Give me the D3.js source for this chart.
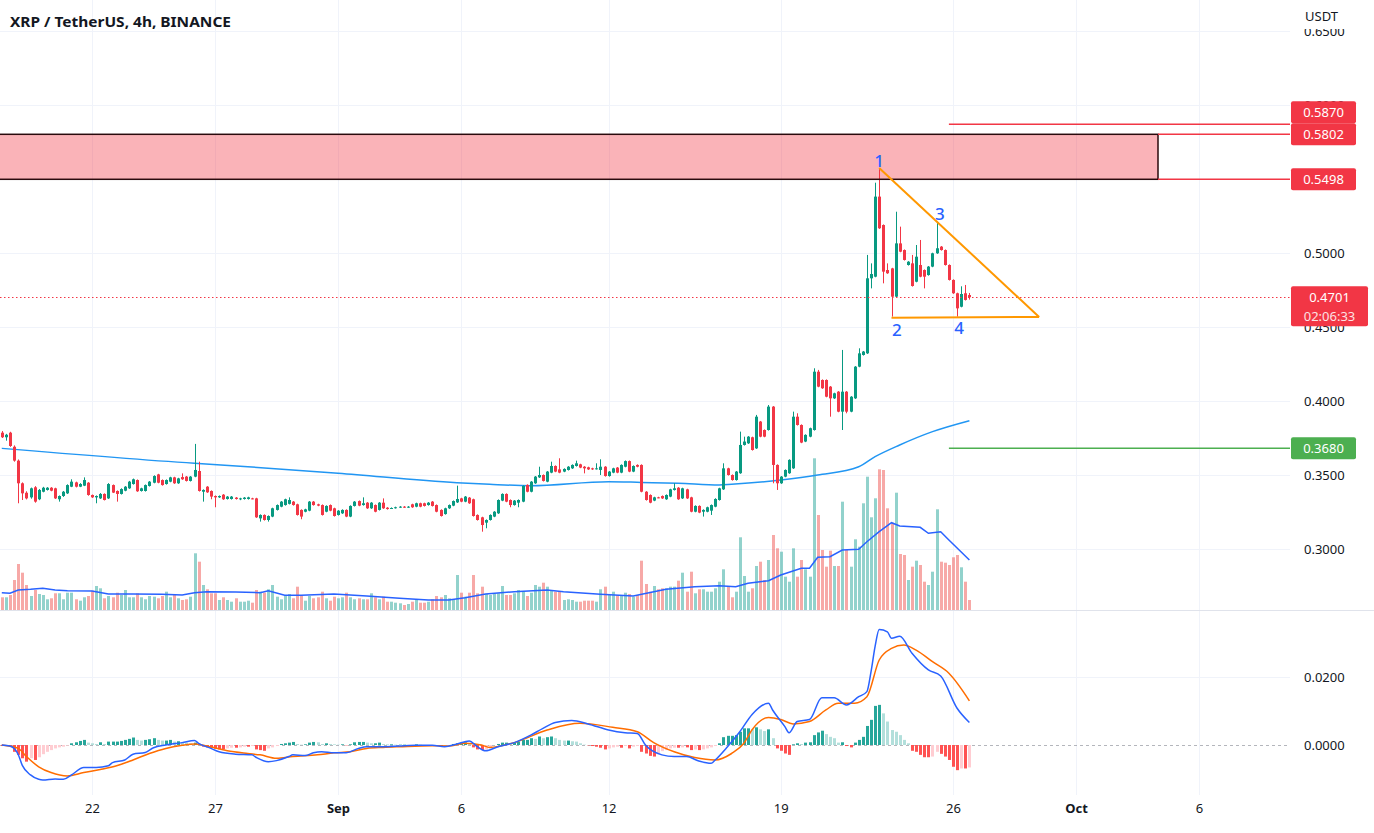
<!DOCTYPE html>
<html><head><meta charset="utf-8">
<script src="https://cdn.jsdelivr.net/npm/d3@7"></script>
<style>
body{margin:0;background:#fff;}
svg{display:block;font-family:"Noto Sans","Open Sans",sans-serif;}
</style></head>
<body><svg id="c" width="1374" height="833"></svg>
<script>
// ---------------- DATA (XRP/USDT 4h, first candle 2022-08-18 08:00 UTC) ----------------
const opens = [
0.3786,0.3755,0.3786,0.3691,0.3597,0.3444,0.3380,0.3349,0.3417,0.3336,
0.3387,0.3399,0.3414,0.3410,0.3336,0.3358,0.3376,0.3421,0.3450,0.3421,
0.3428,0.3448,0.3365,0.3349,0.3342,0.3372,0.3342,0.3432,0.3392,0.3372,
0.3394,0.3410,0.3439,0.3466,0.3392,0.3392,0.3426,0.3448,0.3504,0.3466,
0.3439,0.3455,0.3484,0.3444,0.3486,0.3489,0.3460,0.3489,0.3527,0.3387,
0.3421,0.3392,0.3358,0.3349,0.3367,0.3338,0.3338,0.3347,0.3338,0.3338,
0.3338,0.3342,0.3342,0.3207,0.3230,0.3196,0.3219,0.3264,0.3286,0.3297,
0.3305,0.3320,0.3302,0.3264,0.3252,0.3259,0.3320,0.3302,0.3297,0.3252,
0.3297,0.3275,0.3230,0.3241,0.3264,0.3219,0.3291,0.3324,0.3297,0.3313,
0.3275,0.3297,0.3264,0.3313,0.3279,0.3275,0.3277,0.3282,0.3286,0.3282,
0.3302,0.3286,0.3309,0.3309,0.3297,0.3320,0.3297,0.3264,0.3236,0.3275,
0.3293,0.3315,0.3342,0.3320,0.3347,0.3336,0.3230,0.3214,0.3178,0.3196,
0.3219,0.3241,0.3327,0.3372,0.3331,0.3297,0.3313,0.3320,0.3433,0.3387,
0.3444,0.3484,0.3500,0.3455,0.3516,0.3561,0.3538,0.3523,0.3534,0.3545,
0.3561,0.3572,0.3556,0.3552,0.3545,0.3541,0.3534,0.3556,0.3493,0.3516,
0.3550,0.3516,0.3556,0.3594,0.3523,0.3568,0.3568,0.3387,0.3365,0.3327,
0.3349,0.3358,0.3336,0.3354,0.3399,0.3414,0.3342,0.3403,0.3349,0.3252,
0.3291,0.3252,0.3252,0.3259,0.3286,0.3331,0.3403,0.3545,0.3500,0.3466,
0.3512,0.3703,0.3714,0.3755,0.3680,0.3861,0.3804,0.3804,0.3962,0.3568,
0.3444,0.3489,0.3512,0.3545,0.3894,0.3838,0.3726,0.3759,0.3804,0.4198,
0.4142,0.4142,0.4097,0.4018,0.4063,0.3928,0.4063,0.3928,0.4018,0.4232,
0.4311,0.4322,0.4829,0.4840,0.5381,0.5189,0.4885,0.4896,0.4705,0.5065,
0.5020,0.4919,0.4930,0.4806,0.4919,0.4885,0.4851,0.4908,0.4998,0.5043,
0.5020,0.4919,0.4818,0.4728,0.4637,0.4728,0.4716];
const highs = [
0.3797,0.3778,0.3792,0.3700,0.3605,0.3450,0.3390,0.3415,0.3425,0.3405,
0.3420,0.3418,0.3418,0.3414,0.3362,0.3392,0.3437,0.3471,0.3455,0.3445,
0.3484,0.3452,0.3368,0.3362,0.3378,0.3376,0.3445,0.3436,0.3396,0.3410,
0.3425,0.3460,0.3476,0.3470,0.3414,0.3436,0.3459,0.3498,0.3508,0.3470,
0.3470,0.3488,0.3488,0.3481,0.3511,0.3493,0.3493,0.3710,0.3590,0.3403,
0.3425,0.3396,0.3362,0.3362,0.3371,0.3358,0.3358,0.3351,0.3346,0.3351,
0.3353,0.3346,0.3346,0.3234,0.3234,0.3227,0.3279,0.3301,0.3324,0.3340,
0.3349,0.3324,0.3306,0.3268,0.3272,0.3324,0.3324,0.3306,0.3301,0.3295,
0.3301,0.3279,0.3263,0.3268,0.3268,0.3295,0.3324,0.3328,0.3349,0.3317,
0.3317,0.3301,0.3317,0.3342,0.3283,0.3281,0.3286,0.3290,0.3290,0.3290,
0.3306,0.3313,0.3313,0.3313,0.3317,0.3324,0.3301,0.3268,0.3279,0.3301,
0.3328,0.3428,0.3346,0.3358,0.3351,0.3340,0.3234,0.3218,0.3200,0.3234,
0.3256,0.3335,0.3376,0.3376,0.3335,0.3331,0.3335,0.3430,0.3437,0.3459,
0.3493,0.3556,0.3504,0.3527,0.3590,0.3565,0.3613,0.3545,0.3560,0.3572,
0.3597,0.3576,0.3560,0.3556,0.3549,0.3579,0.3606,0.3560,0.3527,0.3549,
0.3554,0.3572,0.3598,0.3598,0.3565,0.3572,0.3572,0.3391,0.3369,0.3353,
0.3353,0.3362,0.3369,0.3407,0.3444,0.3418,0.3414,0.3407,0.3353,0.3295,
0.3295,0.3268,0.3286,0.3301,0.3343,0.3414,0.3579,0.3549,0.3504,0.3527,
0.3793,0.3759,0.3763,0.3759,0.3906,0.3865,0.3808,0.3973,0.3966,0.3572,
0.3493,0.3538,0.3606,0.3928,0.3917,0.3842,0.3775,0.3820,0.4221,0.4210,
0.4146,0.4146,0.4101,0.4056,0.4067,0.4345,0.4067,0.4033,0.4236,0.4356,
0.4338,0.4987,0.4930,0.5475,0.5574,0.5193,0.4930,0.4900,0.5279,0.5178,
0.5024,0.4945,0.4987,0.5054,0.5088,0.4889,0.4912,0.5002,0.5212,0.5047,
0.5024,0.4923,0.4822,0.4732,0.4775,0.4784,0.4730];
const lows = [
0.3750,0.3732,0.3690,0.3590,0.3309,0.3331,0.3335,0.3340,0.3313,0.3330,
0.3383,0.3395,0.3390,0.3338,0.3320,0.3352,0.3372,0.3418,0.3416,0.3418,
0.3425,0.3360,0.3345,0.3309,0.3338,0.3328,0.3338,0.3378,0.3320,0.3368,
0.3390,0.3406,0.3435,0.3386,0.3388,0.3388,0.3422,0.3444,0.3444,0.3428,
0.3435,0.3451,0.3440,0.3440,0.3467,0.3456,0.3456,0.3485,0.3388,0.3320,
0.3379,0.3336,0.3282,0.3345,0.3332,0.3334,0.3334,0.3334,0.3330,0.3334,
0.3334,0.3336,0.3210,0.3185,0.3192,0.3185,0.3215,0.3260,0.3282,0.3293,
0.3301,0.3293,0.3226,0.3201,0.3248,0.3255,0.3293,0.3289,0.3226,0.3248,
0.3255,0.3219,0.3226,0.3237,0.3215,0.3215,0.3287,0.3289,0.3293,0.3271,
0.3271,0.3248,0.3260,0.3271,0.3266,0.3271,0.3273,0.3278,0.3278,0.3278,
0.3278,0.3282,0.3282,0.3287,0.3293,0.3287,0.3248,0.3219,0.3232,0.3271,
0.3289,0.3311,0.3316,0.3316,0.3305,0.3219,0.3192,0.3117,0.3140,0.3192,
0.3215,0.3237,0.3323,0.3316,0.3282,0.3293,0.3282,0.3316,0.3383,0.3383,
0.3440,0.3480,0.3456,0.3451,0.3512,0.3519,0.3512,0.3519,0.3530,0.3541,
0.3557,0.3546,0.3511,0.3534,0.3534,0.3537,0.3500,0.3489,0.3489,0.3512,
0.3512,0.3512,0.3552,0.3519,0.3519,0.3552,0.3383,0.3327,0.3309,0.3323,
0.3343,0.3338,0.3332,0.3350,0.3395,0.3332,0.3338,0.3338,0.3248,0.3248,
0.3242,0.3219,0.3248,0.3230,0.3282,0.3327,0.3399,0.3496,0.3462,0.3462,
0.3508,0.3699,0.3710,0.3665,0.3676,0.3755,0.3755,0.3800,0.3444,0.3399,
0.3440,0.3485,0.3508,0.3541,0.3834,0.3715,0.3722,0.3755,0.3800,0.4093,
0.4082,0.4025,0.3894,0.4014,0.3924,0.3804,0.3917,0.3924,0.4014,0.4228,
0.4307,0.4318,0.4761,0.4836,0.5163,0.4795,0.4859,0.4570,0.4701,0.5005,
0.4949,0.4915,0.4773,0.4802,0.4836,0.4761,0.4847,0.4904,0.4994,0.5016,
0.4915,0.4814,0.4724,0.4570,0.4633,0.4679,0.4685];
const closes = [
0.3755,0.3772,0.3696,0.3597,0.3444,0.3376,0.3342,0.3410,0.3320,0.3399,
0.3414,0.3414,0.3394,0.3342,0.3358,0.3387,0.3432,0.3455,0.3421,0.3439,
0.3466,0.3365,0.3349,0.3358,0.3372,0.3331,0.3439,0.3381,0.3372,0.3405,
0.3421,0.3455,0.3471,0.3390,0.3410,0.3432,0.3455,0.3493,0.3448,0.3432,
0.3466,0.3484,0.3444,0.3477,0.3471,0.3460,0.3489,0.3534,0.3392,0.3399,
0.3383,0.3354,0.3349,0.3358,0.3336,0.3354,0.3354,0.3338,0.3342,0.3347,
0.3349,0.3340,0.3214,0.3230,0.3196,0.3223,0.3275,0.3297,0.3320,0.3336,
0.3331,0.3297,0.3230,0.3219,0.3268,0.3320,0.3297,0.3293,0.3230,0.3291,
0.3259,0.3223,0.3259,0.3264,0.3219,0.3291,0.3320,0.3293,0.3309,0.3275,
0.3313,0.3252,0.3313,0.3275,0.3270,0.3277,0.3282,0.3286,0.3282,0.3286,
0.3282,0.3309,0.3286,0.3291,0.3313,0.3291,0.3252,0.3223,0.3275,0.3297,
0.3324,0.3338,0.3320,0.3354,0.3309,0.3223,0.3196,0.3162,0.3196,0.3230,
0.3252,0.3331,0.3372,0.3320,0.3297,0.3327,0.3331,0.3426,0.3387,0.3455,
0.3489,0.3500,0.3460,0.3523,0.3561,0.3523,0.3516,0.3541,0.3556,0.3568,
0.3579,0.3550,0.3545,0.3538,0.3538,0.3545,0.3556,0.3493,0.3523,0.3545,
0.3516,0.3568,0.3594,0.3523,0.3561,0.3556,0.3387,0.3331,0.3313,0.3349,
0.3347,0.3342,0.3365,0.3403,0.3410,0.3336,0.3410,0.3342,0.3252,0.3291,
0.3246,0.3264,0.3282,0.3297,0.3338,0.3410,0.3545,0.3500,0.3466,0.3523,
0.3703,0.3726,0.3759,0.3669,0.3894,0.3759,0.3759,0.3962,0.3568,0.3444,
0.3489,0.3534,0.3602,0.3894,0.3838,0.3719,0.3771,0.3816,0.4198,0.4097,
0.4086,0.4029,0.4018,0.4052,0.3928,0.4063,0.3928,0.4029,0.4232,0.4322,
0.4334,0.4829,0.4858,0.5381,0.5167,0.4874,0.4863,0.4705,0.5065,0.5009,
0.4953,0.4941,0.4777,0.4975,0.4840,0.4840,0.4908,0.4998,0.5032,0.5020,
0.4919,0.4818,0.4728,0.4626,0.4723,0.4683,0.4701];
// volume, millions of XRP (approx. read)
const volumes = [
12.7,12.7,15,30,46,37.3,25,14,20,16,
15,10.7,11.7,16.7,16.7,10.7,17.3,17.3,10.7,9.3,
12.7,14,19.3,24,21.7,11.7,14,12.7,17.3,15,
20,12.7,12.7,16.7,12.7,10.7,14,13.3,11.7,14,
18.3,12.7,15,11.7,10,10.7,13.3,56.7,48.3,25,
20.7,16.7,16.7,10,12.7,10,8.3,11.7,8.3,8.3,
9.3,7.3,20,18.3,17.3,20.7,25,13.3,10.7,14,
16,11.7,23.3,15,9.3,14,11.7,12.7,18.3,11.7,
9.3,13.3,11.7,12.7,17.3,12.7,10.7,11.7,10.7,10.7,
16.7,12.7,10.7,13.3,8.3,8.3,7.3,6.7,5,6,
8.3,10,7.3,7.3,8.3,10.7,14,12.7,15,11.7,
10.7,35,17.3,13.3,17.3,35,16.7,23.3,16,15,
16,16.7,24,15,15,16.7,20,18.3,14,17.3,
25,23.3,27.3,23.3,19.3,18.3,18.3,10,10.7,10,
8.3,8.3,9.3,9.3,9.3,8.3,20.7,23.3,15,18.3,
15,14,17.3,16,13.3,15,49.3,26,18.3,24,
20.7,21.7,21.7,23.3,23.3,29.3,37.3,18.3,38.3,16.7,
20.7,20.7,18.3,18.3,21.7,28.3,40.7,23.3,12.7,18.3,
72.7,34,18.3,21.7,44,48.3,30,50,75,61.7,
58.3,33.3,28.3,61.7,33.3,50,40.7,33.3,151.7,95,
60,43.3,59.3,44,44,108.3,60,43.3,70.7,63.3,
106.7,133.3,92.7,111.7,140.7,140,101.7,87.3,117.3,56,
55,30,43.3,49.3,45,28.3,25,38.3,100.7,48.3,
47.3,45,52.7,55,42.7,28.3,10];
// moving average of price, read at candle index
const maIdx = [0,47,60,82,111,119,129,148,156,165,175,178,190,199,209,213,219,227,236];
const maVal = [0.3680,0.3579,0.3556,0.3512,0.3448,0.3437,0.3428,0.3455,0.3450,0.3444,0.3432,0.3437,0.3466,0.3500,0.3556,0.3624,0.3703,0.3793,0.3867];
// volume moving average, read at candle index
const vmaIdx = [0,2,4,7,10,13,16,22,26,32,39,44,47,50,57,63,65,69,73,81,89,97,104,109,113,118,125,133,137,146,154,162,169,175,179,182,187,190,195,197,199,202,205,209,211,214,217,219,224,226,229,231,236];
const vmaVal = [17.3,16.7,20,20.7,21.7,20,19.3,19,16,16,15.7,15,17.3,18.3,18,17.3,19.3,14.7,14.7,16,14,11.7,10,10,12.3,16,18.3,20,18.3,15.7,14,20.7,23.3,24.3,23.3,26.7,29.3,35,41.7,41.7,52.7,53.3,60,60.7,68.3,78.3,87.3,84,82.7,76.7,78.3,70,50];
// MACD line / signal line (units of 1e-4), read at candle index
const macdIdx = [0,2,4,5,7,9,10,13,15,17,20,23,26,27,30,32,35,37,40,44,47,48,51,53,57,61,62,65,67,70,71,74,76,78,81,84,87,89,93,97,101,105,108,111,114,116,118,121,125,129,132,135,139,143,148,152,155,157,161,164,167,170,173,174,177,180,183,187,188,191,192,194,197,200,203,206,209,211,212,213,214,216,217,219,222,226,229,233,236];
const macdVal = [0,-3,-28,-60,-88,-101,-103,-100,-101,-88,-66,-66,-61,-52,-44,-27,-22,-8,0,7,13,5,-10,-20,-27,-29,-36,-49,-46,-34,-29,-31,-23,-20,-23,-23,-10,-5,-5,-3,-1,-1,-5,3,12,-5,-17,-5,7,29,49,66,72,62,44,36,34,0,-29,-34,-34,-47,-54,-44,-5,39,90,123,103,54,36,69,75,139,139,118,142,157,215,290,340,333,314,320,270,221,203,108,66];
const sigIdx = [0,4,6,9,12,16,20,24,28,32,36,40,44,47,50,55,60,63,67,71,77,81,85,89,93,97,105,109,113,117,119,125,133,141,149,155,159,164,169,174,178,181,183,187,190,193,197,201,204,208,211,214,217,220,223,227,231,236];
const sigVal = [0,-10,-34,-64,-81,-91,-81,-72,-61,-44,-25,-10,-1,3,-3,-17,-25,-29,-39,-34,-29,-23,-20,-10,-7,-5,-2,-3,5,0,-7,7,44,64,52,39,7,-20,-37,-44,-25,5,45,81,75,62,69,103,123,123,142,250,284,294,279,245,211,130];
// MACD histogram per candle (units of 1e-4)
const histE4 = [
-3,-3,-5,-20,-29,-39,-49,-39,-44,-36,
-27,-20,-15,-10,-7,-5,-2,5,8,12,
15,7,5,3,8,3,10,10,10,12,
15,18,22,15,13,15,17,20,15,13,
13,15,10,11,9,7,5,7,0,-5,
-7,-9,-11,-13,-13,-10,-8,-8,-7,-5,
-5,-3,-13,-15,-17,-10,-7,-3,3,5,
7,9,3,1,2,7,9,8,3,5,
3,2,1,2,-1,2,8,9,9,7,
5,5,7,3,2,2,1,1,1,0,
0,2,1,0,-1,-2,-3,-4,-2,0,
3,5,7,8,3,-7,-13,-15,-13,-7,
0,3,7,7,5,7,10,15,15,20,
18,25,20,23,25,20,15,13,13,11,
10,5,1,-1,-3,-5,-8,-13,-10,-7,
-5,-8,-3,-10,-5,-3,-20,-25,-32,-34,
-25,-18,-15,-10,-8,-8,-7,-7,-15,-13,
-15,-13,-10,-7,-3,5,23,27,27,29,
39,49,49,46,52,46,41,46,20,-10,
-17,-25,-29,2,5,3,7,8,29,37,
42,32,24,20,7,8,-3,-7,7,15,
24,56,74,115,118,93,69,44,39,29,
15,5,-17,-20,-29,-36,-36,-34,-20,-26,
-34,-44,-64,-74,-69,-69,-66];
// axes
const priceTicks = [0.30,0.35,0.40,0.45,0.50,0.55,0.60,0.65];
const macdTicks = [0.0, 0.02];
const timeTickDates = ["2022-08-22","2022-08-27","2022-09-01","2022-09-06","2022-09-12","2022-09-19","2022-09-26","2022-10-01","2022-10-06"];
const timeTickLabels = ["22","27","Sep","6","12","19","26","Oct","6"];
// drawings
const zoneTop = 0.5802, zoneBottom = 0.5498, zoneEndIdx = 282;
const resistanceRay = {price:0.5870, startIdx:231};
const supportRay = {price:0.3680, startIdx:231};
const triUpper = [[214,0.5574],[253,0.4568]];
const triLower = [[217,0.4562],[253,0.4568]];
const waveLabels = [{t:"1",i:214,p:0.5628},{t:"2",i:218.3,p:0.4480},{t:"3",i:228.8,p:0.5270},{t:"4",i:233.5,p:0.4494}];
const lastPrice = 0.4701, countdown = "02:06:33";
const titleText = "XRP / TetherUS, 4h, BINANCE";

// ---------------- DRAW ----------------
const svg = d3.select("#c");
const PR = 1290;
const UP = "#089981", DN = "#f23645", VUP = "rgba(38,166,154,0.5)", VDN = "rgba(239,83,80,0.5)";
const GRID = "#f0f3fa";
const t0 = Date.UTC(2022,7,18,8), H4 = 4*3600*1000;
const T = i => new Date(t0 + i*H4);
const x = d3.scaleUtc().domain([new Date(Date.UTC(2022,7,22)), new Date(Date.UTC(2022,8,26))]).range([92,953]);
const X = i => x(T(i));
const y = d3.scaleLinear().domain([0.30,0.50]).range([549,253]);
const yv = d3.scaleLinear().domain([0,152]).range([610,458]);
const ym = d3.scaleLinear().domain([0,0.02]).range([745,677]);
const idx = d3.range(closes.length);
const tickDates = timeTickDates.map(s => new Date(s + "T00:00:00Z"));

const defs = svg.append("defs");
defs.append("clipPath").attr("id","cm").append("rect").attr("x",0).attr("y",0).attr("width",PR).attr("height",610);
defs.append("clipPath").attr("id","cd").append("rect").attr("x",0).attr("y",611).attr("width",PR).attr("height",184);

// grid
const grid = svg.append("g");
grid.selectAll("line.h").data(priceTicks).join("line")
  .attr("x1",0).attr("x2",PR).attr("y1",d=>Math.round(y(d))+0.5).attr("y2",d=>Math.round(y(d))+0.5).attr("stroke",GRID);
grid.selectAll("line.m").data([0.02]).join("line")
  .attr("x1",0).attr("x2",PR).attr("y1",d=>Math.round(ym(d))+0.5).attr("y2",d=>Math.round(ym(d))+0.5).attr("stroke",GRID);
grid.selectAll("line.v").data(tickDates).join("line")
  .attr("x1",d=>Math.round(x(d))+0.5).attr("x2",d=>Math.round(x(d))+0.5).attr("y1",0).attr("y2",795).attr("stroke",GRID);
// pane separator
svg.append("line").attr("x1",0).attr("x2",1374).attr("y1",610.5).attr("y2",610.5).attr("stroke","#e0e3eb");

const gm = svg.append("g").attr("clip-path","url(#cm)");
// volume
gm.selectAll("rect.v").data(idx).join("rect")
  .attr("x",i=>Math.round(X(i))-1).attr("width",3)
  .attr("y",i=>yv(volumes[i])).attr("height",i=>yv(0)-yv(volumes[i]))
  .attr("fill",i=>closes[i]>=opens[i]?VUP:VDN);
gm.append("path").datum(vmaIdx.map((d,k)=>[d,vmaVal[k]]))
  .attr("d",d3.line().x(d=>X(d[0])).y(d=>yv(d[1])))
  .attr("fill","none").attr("stroke","#2962ff").attr("stroke-width",1.5);
// price MA
gm.append("path").datum(maIdx.map((d,k)=>[d,maVal[k]]))
  .attr("d",d3.line().x(d=>X(d[0])).y(d=>y(d[1])).curve(d3.curveMonotoneX))
  .attr("fill","none").attr("stroke","#2196f3").attr("stroke-width",1.5);
// candles
gm.selectAll("line.w").data(idx).join("line")
  .attr("x1",i=>Math.round(X(i))+0.5).attr("x2",i=>Math.round(X(i))+0.5)
  .attr("y1",i=>y(highs[i])).attr("y2",i=>y(lows[i]))
  .attr("stroke",i=>closes[i]>=opens[i]?UP:DN).attr("stroke-width",1);
gm.selectAll("rect.b").data(idx).join("rect")
  .attr("x",i=>Math.round(X(i))-1).attr("width",3)
  .attr("y",i=>y(Math.max(opens[i],closes[i])))
  .attr("height",i=>Math.max(1,Math.abs(y(opens[i])-y(closes[i]))))
  .attr("fill",i=>closes[i]>=opens[i]?UP:DN);

// zone
gm.append("rect").attr("x",-5).attr("width",X(zoneEndIdx)+5)
  .attr("y",y(zoneTop)).attr("height",y(zoneBottom)-y(zoneTop))
  .attr("fill","rgba(242,54,69,0.38)").attr("stroke","#2a0a0d").attr("stroke-width",1.5);
// rays
[[resistanceRay.price,resistanceRay.startIdx,"#f23645"],[zoneTop,zoneEndIdx,"#f23645"],[zoneBottom,zoneEndIdx,"#f23645"],[supportRay.price,supportRay.startIdx,"#4caf50"]]
 .forEach(([p,s,c])=>{
  gm.append("line").attr("x1",X(s)).attr("x2",PR).attr("y1",y(p)).attr("y2",y(p)).attr("stroke",c).attr("stroke-width",1.5);
 });
// current price line
gm.append("line").attr("x1",0).attr("x2",PR).attr("y1",Math.round(y(lastPrice))+0.5).attr("y2",Math.round(y(lastPrice))+0.5)
  .attr("stroke","#f23645").attr("stroke-dasharray","1.5,2.5");
// triangle
[triUpper,triLower].forEach(seg=>{
  gm.append("path").datum(seg).attr("d",d3.line().x(d=>X(d[0])).y(d=>y(d[1])))
    .attr("fill","none").attr("stroke","#ff9800").attr("stroke-width",2);
});
gm.selectAll("text.wl").data(waveLabels).join("text")
  .attr("x",d=>X(d.i)).attr("y",d=>y(d.p)).attr("text-anchor","middle").attr("dominant-baseline","central")
  .attr("font-size",17).attr("font-weight",500).attr("fill","#2962ff").text(d=>d.t);

// MACD pane
const gd = svg.append("g").attr("clip-path","url(#cd)");
gd.append("line").attr("x1",0).attr("x2",1374).attr("y1",Math.round(ym(0))+0.5).attr("y2",Math.round(ym(0))+0.5)
  .attr("stroke","#9598a1").attr("stroke-dasharray","3,3").attr("opacity",0.7);
gd.selectAll("rect.h").data(idx).join("rect")
  .attr("x",i=>Math.round(X(i))-1).attr("width",3)
  .attr("y",i=>ym(Math.max(0,histE4[i]*1e-4)))
  .attr("height",i=>Math.abs(ym(histE4[i]*1e-4)-ym(0)))
  .attr("fill",i=>{
    const v=histE4[i], pv=i>0?histE4[i-1]:v;
    if(v>=0) return v>=pv?"#26a69a":"#b2dfdb";
    return v<=pv?"#ff5252":"#ffcdd2";
  });
gd.append("path").datum(sigIdx.map((d,k)=>[d,sigVal[k]]))
  .attr("d",d3.line().x(d=>X(d[0])).y(d=>ym(d[1]*1e-4)).curve(d3.curveMonotoneX))
  .attr("fill","none").attr("stroke","#ff6d00").attr("stroke-width",1.5);
gd.append("path").datum(macdIdx.map((d,k)=>[d,macdVal[k]]))
  .attr("d",d3.line().x(d=>X(d[0])).y(d=>ym(d[1]*1e-4)).curve(d3.curveMonotoneX))
  .attr("fill","none").attr("stroke","#2962ff").attr("stroke-width",1.5);

// axes
const axFont = g => g.call(s=>s.select(".domain").remove()).selectAll("text").attr("font-size",13).attr("fill","#131722").attr("font-family","'Noto Sans',sans-serif");
svg.append("g").attr("transform","translate(1304,0)")
  .call(d3.axisRight(y).tickValues(priceTicks).tickFormat(d3.format(".4f")).tickSize(0).tickPadding(0)).call(axFont);
svg.append("g").attr("transform","translate(1304,0)")
  .call(d3.axisRight(ym).tickValues(macdTicks).tickFormat(d3.format(".4f")).tickSize(0).tickPadding(0)).call(axFont);
const xa = svg.append("g").attr("transform","translate(0,804)")
  .call(d3.axisBottom(x).tickValues(tickDates).tickFormat((d,k)=>timeTickLabels[k]).tickSize(0).tickPadding(0)).call(axFont);
xa.selectAll("text").attr("font-weight",(d,k)=>isNaN(+timeTickLabels[k])?"bold":"normal");
// top mask (the 0.6500 tick is half hidden under the unit header) + unit
svg.append("rect").attr("x",1291).attr("y",0).attr("width",83).attr("height",29).attr("fill","#fff");
svg.append("text").attr("x",1305).attr("y",16).attr("dominant-baseline","central").attr("font-size",13).attr("fill","#131722").text("USDT");

// right-axis price labels
const labels = [
  {p:resistanceRay.price, c:"#f23645", t:d3.format(".4f")(resistanceRay.price)},
  {p:zoneTop, c:"#f23645", t:d3.format(".4f")(zoneTop)},
  {p:zoneBottom, c:"#f23645", t:d3.format(".4f")(zoneBottom)},
  {p:supportRay.price, c:"#4caf50", t:d3.format(".4f")(supportRay.price)}
].map(d=>({...d, cy:y(d.p)})).sort((a,b)=>b.cy-a.cy);
for(let k=1;k<labels.length;k++){ if(labels[k].cy > labels[k-1].cy-22) labels[k].cy = labels[k-1].cy-22; }
const lg = svg.append("g");
labels.forEach(d=>{
  lg.append("rect").attr("x",1291).attr("y",d.cy-11).attr("width",65).attr("height",22).attr("rx",2).attr("fill",d.c);
  lg.append("text").attr("x",1323.5).attr("y",d.cy).attr("text-anchor","middle").attr("dominant-baseline","central")
    .attr("font-size",13).attr("fill","#fff").text(d.t);
});
const ly = y(lastPrice);
lg.append("rect").attr("x",1291).attr("y",ly-11).attr("width",77).attr("height",40).attr("rx",2).attr("fill","#f23645");
lg.append("text").attr("x",1329.5).attr("y",ly).attr("text-anchor","middle").attr("dominant-baseline","central")
  .attr("font-size",13).attr("fill","#fff").text(d3.format(".4f")(lastPrice));
lg.append("text").attr("x",1329.5).attr("y",ly+19).attr("text-anchor","middle").attr("dominant-baseline","central")
  .attr("font-size",13).attr("fill","#fff").attr("opacity",0.85).text(countdown);

// title
svg.append("text").attr("x",10).attr("y",21).attr("dominant-baseline","central")
  .attr("font-size",15).attr("font-weight",700).attr("fill","#131722")
  .attr("textLength",221).attr("lengthAdjust","spacingAndGlyphs").text(titleText);
</script></body></html>
